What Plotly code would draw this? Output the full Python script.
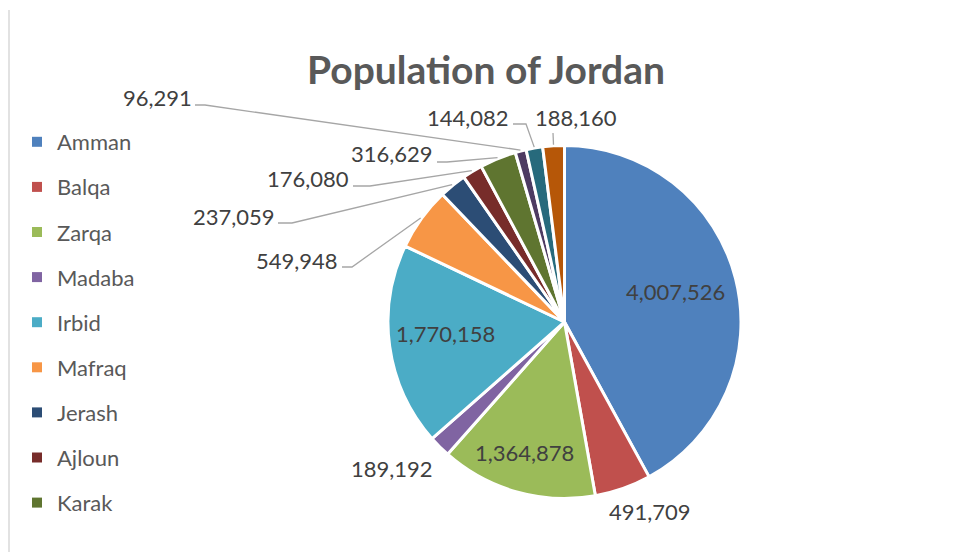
import math
import plotly.graph_objects as go

# ---- data ----
regions = ["Amman", "Balqa", "Zarqa", "Madaba", "Irbid", "Mafraq", "Jerash",
           "Ajloun", "Karak", "Tafileh", "Ma'an", "Aqaba"]
population = [4007526, 491709, 1364878, 189192, 1770158, 549948, 237059,
              176080, 316629, 96291, 144082, 188160]
colors = ["#4F81BD", "#C0504D", "#9BBB59", "#8064A2", "#4BACC6", "#F79646",
          "#2C4D75", "#772C2A", "#5F7530", "#4D3B62", "#276A7C", "#B65708"]
legend_shown = 9  # the legend box only has room for the first nine entries

# ---- layout (screen pixels; the page body adds an 8px offset) ----
OFF = 8
W, H = 970 - OFF, 552 - OFF
CX, CY, R = 564.5, 322.0, 176.5

# label centre positions (px) and leader line start/elbow (px) or None
label_pos = [(675, 291), (650, 511), (524, 452), (392, 468), (445, 333),
             (297, 260), (234, 216), (308, 178), (392, 154), (157, 98),
             (468, 118), (576, 118)]
leader = [None, None, None, None, None,
          ((342, 267), (352, 267)),
          ((278, 223), (292, 223)),
          ((353, 186), (370, 186)),
          ((437, 162), (447, 162)),
          ((195, 105), (205, 105)),
          ((513, 124), (526, 124)),
          ((553, 133), (553, 133))]


def px(x):
    return (x - OFF) / W


def py(y):
    return 1 - (y - OFF) / H


FONT = "Lato, 'Open Sans', sans-serif"

fig = go.Figure()
fig.add_trace(go.Pie(
    labels=regions, values=population, sort=False, direction="clockwise",
    rotation=0, marker=dict(colors=colors, line=dict(color="white", width=3)),
    textinfo="none", hoverinfo="label+value+percent", showlegend=False,
    domain=dict(x=[px(CX - R), px(CX + R)], y=[py(CY + R), py(CY - R)]),
))

for i in range(legend_shown):
    fig.add_trace(go.Scatter(
        x=[None], y=[None], mode="markers", name=regions[i],
        legendgroup=regions[i],
        marker=dict(symbol="square", size=10, color=colors[i]),
        showlegend=True, hoverinfo="skip"))

total = sum(population)
annotations = []
shapes = []
cum = 0
for i, v in enumerate(population):
    mid = (cum + v / 2) / total * 2 * math.pi
    cum += v
    ex = CX + (R + 1) * math.sin(mid)
    ey = CY - (R + 1) * math.cos(mid)
    lx, ly = label_pos[i]
    annotations.append(dict(
        x=px(lx), y=py(ly), xref="paper", yref="paper", text=f"{v:,}",
        showarrow=False, xanchor="center", yanchor="middle",
        font=dict(family=FONT, size=22, color="#404040")))
    if leader[i] is not None:
        (sx, sy), (bx, by) = leader[i]
        shapes.append(dict(
            type="path", xref="paper", yref="paper",
            path=f"M {px(sx)} {py(sy)} L {px(bx)} {py(by)} L {px(ex)} {py(ey)}",
            line=dict(color="#A6A6A6", width=1.3)))

# chart frame left edge
shapes.append(dict(type="line", xref="paper", yref="paper",
                   x0=px(9), x1=px(9), y0=py(10), y1=0,
                   line=dict(color="#D9D9D9", width=1.5)))

fig.update_layout(
    width=W, height=H, margin=dict(l=0, r=0, t=0, b=0, autoexpand=False),
    paper_bgcolor="white", plot_bgcolor="white",
    title=dict(text="<b>Population of Jordan</b>", x=px(486), y=py(70),
               xanchor="center", yanchor="middle", xref="paper", yref="paper",
               font=dict(family=FONT, size=39, color="#595959")),
    xaxis=dict(visible=False), yaxis=dict(visible=False),
    legend=dict(x=px(17), y=py(121), xanchor="left", yanchor="top",
                font=dict(family=FONT, size=22, color="#595959"),
                bgcolor="rgba(0,0,0,0)", tracegroupgap=13.5, itemwidth=30),
    annotations=annotations, shapes=shapes,
)

fig.write_html("out.html")
